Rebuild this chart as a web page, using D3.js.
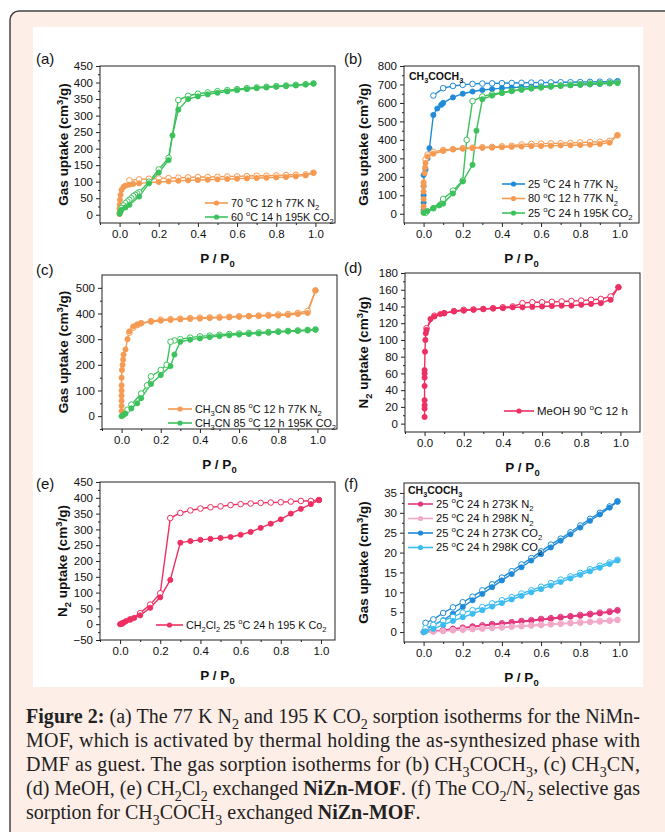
<!DOCTYPE html>
<html>
<head>
<meta charset="utf-8">
<script src="https://cdn.jsdelivr.net/npm/d3@7"></script>
<style>
  body { margin: 0; background: #fff; }
  svg { display: block; }
</style>
</head>
<body>
<script>
const W = 665, H = 832;

// ---- data: [P/P0, uptake] ----
// (a)
const aN2Ads = [[0,2],[0,8],[0,18],[0,30],[0.002,45],[0.005,60],[0.01,75],[0.02,84],[0.03,88],[0.05,91],[0.07,93],[0.1,95],[0.15,97],[0.2,99],[0.25,101],[0.3,103],[0.35,104],[0.4,105],[0.45,106],[0.5,107],[0.55,108],[0.6,109],[0.65,110],[0.7,111],[0.75,112],[0.8,113],[0.85,114],[0.9,116],[0.95,119],[0.99,127]];
const aN2Des = [[0.99,127],[0.95,122],[0.9,121],[0.85,120],[0.8,119],[0.75,118],[0.7,118],[0.65,117],[0.6,116],[0.55,116],[0.5,115],[0.45,114],[0.4,114],[0.35,113],[0.3,112],[0.25,111],[0.2,110],[0.15,109],[0.1,107],[0.05,104]];
const aCO2Ads = [[0,3],[0.005,10],[0.01,15],[0.03,22],[0.05,30],[0.1,55],[0.15,95],[0.2,128],[0.25,165],[0.27,240],[0.3,318],[0.35,350],[0.4,358],[0.45,364],[0.5,369],[0.55,373],[0.6,377],[0.65,380],[0.7,383],[0.75,385],[0.8,387],[0.85,389],[0.9,391],[0.95,394],[0.99,397]];
const aCO2Des = [[0.99,397],[0.95,395],[0.9,393],[0.85,391],[0.8,389],[0.75,387],[0.7,385],[0.65,383],[0.6,380],[0.55,377],[0.5,374],[0.45,370],[0.4,366],[0.35,360],[0.3,347],[0.25,172],[0.2,137],[0.15,100],[0.1,68],[0.09,64],[0.08,60],[0.07,56],[0.06,50],[0.05,45],[0.04,40],[0.03,35],[0.02,28],[0.01,20]];
// (b)
const bN2Ads25 = [[0,20],[0,60],[0,100],[0,150],[0,210],[0.01,240],[0.02,300],[0.03,355],[0.05,535],[0.07,570],[0.09,590],[0.1,600],[0.15,630],[0.2,650],[0.25,662],[0.3,670],[0.35,675],[0.4,680],[0.45,683],[0.5,686],[0.55,688],[0.6,690],[0.65,692],[0.7,694],[0.75,696],[0.8,698],[0.85,700],[0.9,703],[0.95,706],[0.99,715]];
const bN2Des25 = [[0.99,718],[0.95,716],[0.9,715],[0.85,714],[0.8,713],[0.75,712],[0.7,712],[0.65,711],[0.6,710],[0.55,710],[0.5,709],[0.45,708],[0.4,707],[0.35,706],[0.3,705],[0.25,703],[0.2,698],[0.15,692],[0.1,680],[0.05,640]];
const bN2Ads80 = [[0,10],[0,40],[0,80],[0,120],[0,150],[0,170],[0.005,220],[0.008,250],[0.01,275],[0.02,310],[0.05,325],[0.1,340],[0.15,348],[0.2,352],[0.25,355],[0.3,357],[0.35,358],[0.4,360],[0.45,362],[0.5,364],[0.55,366],[0.6,367],[0.65,368],[0.7,370],[0.75,371],[0.8,372],[0.85,374],[0.9,378],[0.95,385],[0.99,425]];
const bN2Des80 = [[0.99,425],[0.95,395],[0.9,390],[0.85,388],[0.8,386],[0.75,384],[0.7,382],[0.65,381],[0.6,380],[0.55,378],[0.5,375],[0.45,368],[0.4,365],[0.35,362],[0.3,360],[0.25,358],[0.2,355],[0.15,350],[0.1,345],[0.05,335],[0.02,320],[0.01,295]];
const bCO2Ads = [[0,5],[0.02,15],[0.05,30],[0.08,45],[0.1,55],[0.15,110],[0.2,175],[0.25,265],[0.27,450],[0.3,620],[0.35,640],[0.4,655],[0.45,665],[0.5,672],[0.55,678],[0.6,683],[0.65,688],[0.7,692],[0.75,696],[0.8,699],[0.85,702],[0.9,704],[0.95,706],[0.99,708]];
const bCO2Des = [[0.99,710],[0.95,709],[0.9,707],[0.85,705],[0.8,702],[0.75,699],[0.7,695],[0.65,690],[0.6,685],[0.55,680],[0.5,673],[0.45,665],[0.4,655],[0.35,647],[0.3,635],[0.25,610],[0.22,400],[0.2,180],[0.15,125],[0.1,80],[0.05,30],[0.01,5]];
// (c)
const cN2Ads = [[0,20],[0,40],[0,60],[0,80],[0,100],[0,120],[0,150],[0.002,180],[0.005,200],[0.008,220],[0.01,240],[0.02,260],[0.03,300],[0.04,330],[0.06,350],[0.08,358],[0.1,362],[0.15,368],[0.2,372],[0.25,375],[0.3,377],[0.35,379],[0.4,380],[0.45,382],[0.5,383],[0.55,385],[0.6,387],[0.65,389],[0.7,390],[0.75,391],[0.8,392],[0.85,394],[0.9,398],[0.95,402],[0.99,490]];
const cN2Des = [[0.99,490],[0.95,410],[0.9,402],[0.85,398],[0.8,396],[0.75,394],[0.7,392],[0.65,390],[0.6,389],[0.55,387],[0.5,386],[0.45,385],[0.4,384],[0.35,382],[0.3,380],[0.25,378],[0.2,376],[0.15,370],[0.1,362],[0.08,355],[0.06,345],[0.04,325]];
const cCO2Ads = [[0,0],[0.01,5],[0.02,10],[0.05,30],[0.08,50],[0.1,70],[0.15,125],[0.2,160],[0.25,195],[0.27,240],[0.3,290],[0.35,298],[0.4,303],[0.45,308],[0.5,312],[0.55,315],[0.6,318],[0.65,320],[0.7,322],[0.75,325],[0.8,328],[0.85,330],[0.9,332],[0.95,334],[0.99,337]];
const cCO2Des = [[0.99,338],[0.95,336],[0.9,334],[0.85,332],[0.8,330],[0.75,328],[0.7,326],[0.65,324],[0.6,322],[0.55,320],[0.5,317],[0.45,314],[0.4,311],[0.35,306],[0.3,300],[0.27,295],[0.25,290],[0.23,200],[0.2,180],[0.15,155],[0.13,120],[0.1,88],[0.05,45],[0.03,25]];
// (d)
const dAds = [[0,8],[0,18],[0,22],[0,28],[0,45],[0,55],[0,60],[0,64],[0.002,86],[0.004,100],[0.006,108],[0.01,112],[0.03,125],[0.05,128],[0.08,131],[0.1,132],[0.15,134],[0.2,135],[0.25,136],[0.3,137],[0.35,137.5],[0.4,138],[0.45,139],[0.5,139],[0.55,139.5],[0.6,140],[0.65,140.5],[0.7,141],[0.75,141],[0.8,142],[0.85,143],[0.9,144],[0.95,148],[0.99,163]];
const dDes = [[0.99,163],[0.95,152],[0.9,149],[0.85,148],[0.8,147],[0.75,146.5],[0.7,146],[0.65,145.5],[0.6,145],[0.55,145],[0.5,144],[0.45,140],[0.4,139],[0.35,138],[0.3,137],[0.25,136.5],[0.2,136],[0.15,134.5],[0.1,132],[0.05,129],[0.01,114]];
// (e)
const eAds = [[0,0],[0.01,3],[0.02,6],[0.03,10],[0.05,15],[0.07,20],[0.1,28],[0.15,52],[0.2,85],[0.25,140],[0.3,258],[0.35,263],[0.4,267],[0.45,270],[0.5,273],[0.55,276],[0.6,283],[0.65,292],[0.7,305],[0.75,318],[0.8,332],[0.85,350],[0.9,365],[0.95,380],[0.99,393]];
const eDes = [[0.99,393],[0.95,390],[0.9,390],[0.85,388],[0.8,386],[0.75,385],[0.7,384],[0.65,382],[0.6,380],[0.55,377],[0.5,373],[0.45,370],[0.4,366],[0.35,360],[0.3,352],[0.25,336],[0.2,98],[0.15,62],[0.1,35],[0.05,15],[0.01,2]];
// (f)
const fN2Ads273 = [[0,0],[0.05,0.2],[0.1,0.5],[0.15,0.8],[0.2,1.0],[0.25,1.3],[0.3,1.5],[0.35,1.8],[0.4,2.0],[0.45,2.3],[0.5,2.6],[0.55,2.8],[0.6,3.1],[0.65,3.3],[0.7,3.6],[0.75,3.9],[0.8,4.1],[0.85,4.4],[0.9,4.7],[0.95,5.0],[0.99,5.4]];
const fN2Des273 = [[0.99,5.5],[0.95,5.2],[0.9,4.9],[0.85,4.6],[0.8,4.3],[0.75,4.0],[0.7,3.8],[0.65,3.5],[0.6,3.3],[0.55,3.0],[0.5,2.8],[0.45,2.5],[0.4,2.2],[0.35,2.0],[0.3,1.7],[0.25,1.4],[0.2,1.1],[0.15,0.8],[0.1,0.5],[0.05,0.3]];
const fN2Ads298 = [[0,0],[0.05,0.1],[0.1,0.2],[0.15,0.4],[0.2,0.5],[0.25,0.7],[0.3,0.8],[0.35,1.0],[0.4,1.1],[0.45,1.3],[0.5,1.4],[0.55,1.6],[0.6,1.7],[0.65,1.9],[0.7,2.0],[0.75,2.2],[0.8,2.3],[0.85,2.5],[0.9,2.6],[0.95,2.8],[0.99,3.0]];
const fN2Des298 = [[0.99,3.1],[0.95,2.9],[0.9,2.8],[0.85,2.6],[0.8,2.5],[0.75,2.3],[0.7,2.2],[0.65,2.0],[0.6,1.9],[0.55,1.7],[0.5,1.6],[0.45,1.4],[0.4,1.3],[0.35,1.1],[0.3,1.0],[0.25,0.8],[0.2,0.7],[0.15,0.5],[0.1,0.3],[0.05,0.2]];
const fCO2Ads273 = [[0,0],[0.01,0.5],[0.05,1.8],[0.1,3.0],[0.15,4.6],[0.2,6.3],[0.25,8.0],[0.3,9.6],[0.35,11.3],[0.4,13.0],[0.45,14.6],[0.5,16.3],[0.55,18.0],[0.6,19.6],[0.65,21.3],[0.7,23.0],[0.75,24.6],[0.8,26.3],[0.85,28.0],[0.9,29.6],[0.95,31.3],[0.99,32.8]];
const fCO2Des273 = [[0.99,32.9],[0.95,31.6],[0.9,30.0],[0.85,28.5],[0.8,26.8],[0.75,25.1],[0.7,23.5],[0.65,22.0],[0.6,20.3],[0.55,18.6],[0.5,17.0],[0.45,15.3],[0.4,13.7],[0.35,12.0],[0.3,10.5],[0.25,8.9],[0.2,7.5],[0.15,6.2],[0.1,4.8],[0.05,3.2],[0.01,2.3]];
const fCO2Ads298 = [[0,0],[0.01,0.2],[0.05,0.8],[0.1,1.8],[0.15,2.8],[0.2,3.7],[0.25,4.6],[0.3,5.5],[0.35,6.4],[0.4,7.3],[0.45,8.2],[0.5,9.1],[0.55,10.0],[0.6,10.8],[0.65,11.7],[0.7,12.6],[0.75,13.5],[0.8,14.4],[0.85,15.3],[0.9,16.2],[0.95,17.1],[0.99,18.0]];
const fCO2Des298 = [[0.99,18.2],[0.95,17.5],[0.9,16.7],[0.85,15.8],[0.8,14.9],[0.75,14.0],[0.7,13.2],[0.65,12.3],[0.6,11.4],[0.55,10.5],[0.5,9.7],[0.45,8.8],[0.4,8.0],[0.35,7.2],[0.3,6.3],[0.25,5.5],[0.2,4.9],[0.15,3.8],[0.1,2.8],[0.05,1.8],[0.01,1.0]];

const xTicks = [0, 0.2, 0.4, 0.6, 0.8, 1.0];

const ORANGE = "#f59a52", GREEN = "#3cc25c", BLUE = "#1f8bd8",
      CRIMSON = "#ee2f62", PINK = "#e2357c", LPINK = "#f3a8c8", LBLUE = "#3cbcf0";

const svg = d3.select("body").append("svg")
    .attr("width", W).attr("height", H)
    .style("font-family", "'Liberation Sans', Arial, sans-serif");

// outer card + white figure area
svg.append("rect").attr("x", 10).attr("y", 11).attr("width", 700).attr("height", 860)
    .attr("rx", 9).attr("fill", "#fdeee7").attr("stroke", "#444").attr("stroke-width", 1.5);
svg.append("rect").attr("x", 33).attr("y", 27).attr("width", 610).attr("height", 660)
    .attr("fill", "#fff");

// text with _{sub}, ^{sup} and *{bold} markup
function rich(t, str, size) {
  let shift = 0;
  str.split(/(_\{[^}]*\}|\^\{[^}]*\}|\*\{[^}]*\})/).forEach(p => {
    if (!p) return;
    let target = 0, fs = size, txt = p, bold = false;
    if (p.startsWith("_{")) { target = size * 0.3; fs = size * 0.7; txt = p.slice(2, -1); }
    else if (p.startsWith("^{")) { target = -size * 0.4; fs = size * 0.7; txt = p.slice(2, -1); }
    else if (p.startsWith("*{")) { bold = true; txt = p.slice(2, -1); }
    const ts = t.append("tspan").attr("dy", target - shift).attr("font-size", fs).text(txt);
    if (bold) ts.attr("font-weight", "bold");
    shift = target;
  });
  return t;
}

function panel(o) {
  const g = svg.append("g");
  const x = d3.scaleLinear().domain(o.xd).range([o.l, o.r]);
  const y = d3.scaleLinear().domain(o.yd).range([o.b, o.t]);

  const xMinor = d3.range(-1, 11, 2).map(d => d / 10).filter(d => d > o.xd[0] - 1e-9 && d < o.xd[1]);
  g.append("g").attr("transform", `translate(0,${o.b})`)
      .call(d3.axisBottom(x).tickValues(xTicks).tickFormat(d3.format(".1f")).tickSize(4).tickPadding(3));
  g.append("g").attr("transform", `translate(0,${o.b})`)
      .call(d3.axisBottom(x).tickValues(xMinor).tickFormat("").tickSize(2));
  g.append("g").attr("transform", `translate(${o.l},0)`)
      .call(d3.axisLeft(y).tickValues(o.yTicks).tickSize(4).tickPadding(3));
  g.append("g").attr("transform", `translate(${o.l},0)`)
      .call(d3.axisLeft(y).tickValues(o.yMinor).tickFormat("").tickSize(2));
  g.selectAll(".domain").remove();
  g.selectAll(".tick line").attr("stroke", "#222");
  g.selectAll(".tick text").attr("font-size", 11.5).attr("fill", "#111");

  g.append("rect").attr("x", o.l).attr("y", o.t).attr("width", o.r - o.l).attr("height", o.b - o.t)
      .attr("fill", "none").attr("stroke", "#222").attr("stroke-width", 1);

  // series: lines first, then open (desorption) and filled (adsorption) markers
  const line = d3.line().x(d => x(d[0])).y(d => y(d[1]));
  o.series.forEach(s => {
    [s.des, s.ads].forEach(arr => g.append("path").attr("d", line(arr))
        .attr("fill", "none").attr("stroke", s.color).attr("stroke-width", 1.4));
  });
  o.series.forEach(s => {
    g.selectAll(null).data(s.des).enter().append("circle")
        .attr("cx", d => x(d[0])).attr("cy", d => y(d[1])).attr("r", 2.8)
        .attr("fill", "#fff").attr("stroke", s.color).attr("stroke-width", 1);
    g.selectAll(null).data(s.ads).enter().append("circle")
        .attr("cx", d => x(d[0])).attr("cy", d => y(d[1])).attr("r", 2.6)
        .attr("fill", s.color).attr("stroke", s.color).attr("stroke-width", 0.8);
  });

  // legend
  o.series.forEach((s, i) => {
    const ly = o.leg.y + i * o.leg.dy;
    g.append("line").attr("x1", o.leg.x).attr("x2", o.leg.x + o.leg.w).attr("y1", ly).attr("y2", ly)
        .attr("stroke", s.color).attr("stroke-width", 1.6);
    g.append("circle").attr("cx", o.leg.x + o.leg.w / 2).attr("cy", ly).attr("r", 2.6).attr("fill", s.color);
    rich(g.append("text").attr("x", o.leg.x + o.leg.w + 3).attr("y", ly + 3.8).attr("fill", "#111"), s.name, o.leg.fs);
  });
  if (o.note) {
    rich(g.append("text").attr("x", o.note.x).attr("y", o.note.y).attr("font-weight", "bold").attr("fill", "#111"),
        "CH_{3}COCH_{3}", 10.5);
  }

  // titles
  rich(g.append("text").attr("x", (o.l + o.r) / 2).attr("y", o.b + 40).attr("text-anchor", "middle")
      .attr("font-weight", "bold").attr("fill", "#111"), "P / P_{0}", 13.5);
  rich(g.append("text").attr("transform", `translate(${o.yl},${(o.t + o.b) / 2}) rotate(-90)`)
      .attr("text-anchor", "middle").attr("font-weight", "bold").attr("fill", "#111"), o.ylabel, 13.5);
  g.append("text").attr("x", o.tag[0]).attr("y", o.tag[1]).attr("font-size", 15).attr("fill", "#111").text(o.tagText);
}

const GAS = "Gas uptake (cm^{3}/g)", N2U = "N_{2} uptake (cm^{3}/g)";

panel({ l: 100, r: 335, t: 66, b: 223, xd: [-0.1, 1.1], yd: [-25, 450],
  yTicks: d3.range(0, 451, 50), yMinor: d3.range(25, 450, 50), ylabel: GAS, yl: 68,
  tag: [36, 64], tagText: "(a)",
  leg: { x: 205, y: 203, dy: 14, w: 23, fs: 10.8 },
  series: [
    { name: "70 ^{o}C 12 h 77K N_{2}", color: ORANGE, ads: aN2Ads, des: aN2Des },
    { name: "60 ^{o}C 14 h 195K CO_{2}", color: GREEN, ads: aCO2Ads, des: aCO2Des }
  ] });

panel({ l: 404, r: 639, t: 66, b: 223, xd: [-0.1, 1.1], yd: [-50, 800],
  yTicks: d3.range(0, 801, 100), yMinor: d3.range(50, 800, 100), ylabel: GAS, yl: 368,
  tag: [344, 64], tagText: "(b)", note: { x: 409, y: 80 },
  leg: { x: 502, y: 184, dy: 14.5, w: 23, fs: 11 },
  series: [
    { name: "25 ^{o}C 24 h 77K N_{2}", color: BLUE, ads: bN2Ads25, des: bN2Des25 },
    { name: "80 ^{o}C 12 h 77K N_{2}", color: ORANGE, ads: bN2Ads80, des: bN2Des80 },
    { name: "25 ^{o}C 24 h 195K CO_{2}", color: GREEN, ads: bCO2Ads, des: bCO2Des }
  ] });

panel({ l: 102, r: 337, t: 275, b: 429, xd: [-0.1, 1.1], yd: [-50, 550],
  yTicks: d3.range(0, 501, 100), yMinor: d3.range(-50, 550, 100), ylabel: GAS, yl: 68,
  tag: [36, 275], tagText: "(c)",
  leg: { x: 168, y: 409, dy: 14, w: 24, fs: 10.8 },
  series: [
    { name: "CH_{3}CN 85 ^{o}C 12 h 77K N_{2}", color: ORANGE, ads: cN2Ads, des: cN2Des },
    { name: "CH_{3}CN 85 ^{o}C 12 h 195K CO_{2}", color: GREEN, ads: cCO2Ads, des: cCO2Des }
  ] });

panel({ l: 405, r: 640, t: 273, b: 432, xd: [-0.1, 1.1], yd: [-10, 180],
  yTicks: d3.range(0, 181, 20), yMinor: d3.range(10, 180, 20), ylabel: N2U, yl: 368,
  tag: [344, 273], tagText: "(d)",
  leg: { x: 504, y: 411, dy: 14, w: 30, fs: 11.5 },
  series: [
    { name: "MeOH 90 ^{o}C 12 h", color: CRIMSON, ads: dAds, des: dDes }
  ] });

panel({ l: 100, r: 335, t: 482, b: 640, xd: [-0.1, 1.07], yd: [-50, 450],
  yTicks: d3.range(-50, 451, 50), yMinor: d3.range(-25, 450, 50), ylabel: N2U, yl: 67,
  tag: [36, 489], tagText: "(e)",
  leg: { x: 156, y: 625, dy: 14, w: 27, fs: 10.8 },
  series: [
    { name: "CH_{2}Cl_{2} 25 ^{o}C 24 h 195 K Co_{2}", color: CRIMSON, ads: eAds, des: eDes }
  ] });

panel({ l: 404, r: 639, t: 483, b: 642, xd: [-0.1, 1.1], yd: [-2.5, 37.5],
  yTicks: d3.range(0, 36, 5), yMinor: d3.range(2.5, 37.5, 5), ylabel: GAS, yl: 368,
  tag: [344, 489], tagText: "(f)", note: { x: 408, y: 494 },
  leg: { x: 408, y: 504, dy: 14.5, w: 25, fs: 11.2 },
  series: [
    { name: "25 ^{o}C 24 h 273K N_{2}", color: PINK, ads: fN2Ads273, des: fN2Des273 },
    { name: "25 ^{o}C 24 h 298K N_{2}", color: LPINK, ads: fN2Ads298, des: fN2Des298 },
    { name: "25 ^{o}C 24 h 273K CO_{2}", color: BLUE, ads: fCO2Ads273, des: fCO2Des273 },
    { name: "25 ^{o}C 24 h 298K CO_{2}", color: LBLUE, ads: fCO2Ads298, des: fCO2Des298 }
  ] });

// caption
const captionLines = [
  "*{Figure 2:} (a) The 77 K N_{2} and 195 K CO_{2} sorption isotherms for the NiMn-",
  "MOF, which is activated by thermal holding the as-synthesized phase with",
  "DMF as guest. The gas sorption isotherms for (b) CH_{3}COCH_{3}, (c) CH_{3}CN,",
  "(d) MeOH, (e) CH_{2}Cl_{2} exchanged *{NiZn-MOF}. (f) The CO_{2}/N_{2} selective gas",
  "sorption for CH_{3}COCH_{3} exchanged *{NiZn-MOF}."
];
captionLines.forEach((ln, i) => {
  const t = svg.append("text").attr("x", 26).attr("y", 723 + i * 24)
      .attr("font-family", "'Liberation Serif', 'DejaVu Serif', serif").attr("fill", "#222");
  rich(t, ln, 20);
  if (i < captionLines.length - 1) t.attr("textLength", 614).attr("lengthAdjust", "spacing");
});
</script>
</body>
</html>
